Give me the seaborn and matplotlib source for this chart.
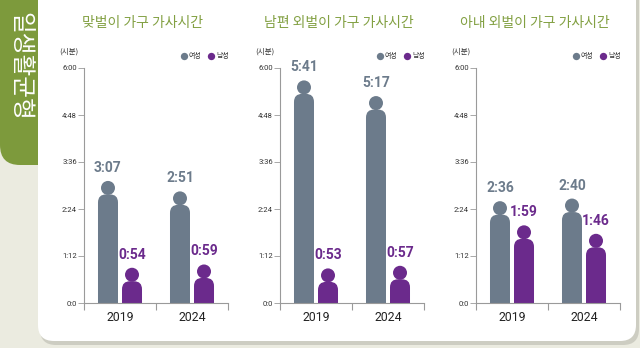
import matplotlib
matplotlib.use("Agg")
import matplotlib.pyplot as plt
from matplotlib.patches import FancyBboxPatch, Ellipse, BoxStyle
import seaborn as sns
import pandas as pd

sns.set_style("white")
plt.rcParams["font.family"] = ["Noto Sans CJK KR", "DejaVu Sans"]

# ---- data -------------------------------------------------------------
years = ["2019", "2024"]
sexes = ["여성", "남성"]
panel_titles = ["맞벌이 가구 가사시간", "남편 외벌이 가구 가사시간", "아내 외벌이 가구 가사시간"]
women_times = [["3:07", "2:51"], ["5:41", "5:17"], ["2:36", "2:40"]]
men_times = [["0:54", "0:59"], ["0:53", "0:57"], ["1:59", "1:46"]]
ytick_minutes = [0, 72, 144, 216, 288, 360]
ytick_labels = ["0:0", "1:12", "2:24", "3:36", "4:48", "6:00"]
side_label = "일생활균형"
unit_label = "(시분)"

# ---- style ------------------------------------------------------------
GREY = "#6c7b8b"
PURPLE = "#6b2a8c"
GREEN = "#7d9a3c"
TITLE_GREEN = "#82a042"
BG = "#ebebe0"
W, H = 640, 348


def to_minutes(s):
    h, m = s.split(":")
    return int(h) * 60 + int(m)


fig = plt.figure(figsize=(W / 100, H / 100), dpi=100, facecolor=BG)

# white card with soft shadow, and the green side banner
shadow = FancyBboxPatch((40, 3), 599, 400, boxstyle="round,pad=0,rounding_size=16",
                        transform=None, fc="#cdcdc2", ec="none", zorder=0)
card = FancyBboxPatch((38, 7), 598, 400, boxstyle="round,pad=0,rounding_size=16",
                      transform=None, fc="white", ec="none", zorder=1)
banner = FancyBboxPatch((0, H - 165), 60, 300, boxstyle="round,pad=0,rounding_size=20",
                        transform=None, fc=GREEN, ec="none", zorder=0.5)
for p in (shadow, banner, card):
    fig.add_artist(p)
fig.text(20 / W, 1 - 66 / H, side_label, rotation=-90, color="white", fontsize=17,
         fontweight="light", ha="center", va="center", zorder=3)

AX_W, AX_H, AX_BOTTOM = 144, 235, 45
lefts = [84, 280, 476]
xpp = 2.0 / AX_W        # data x per pixel
ypp = 360.0 / AX_H      # minutes per pixel
HEAD = 14               # head diameter, px
BODY_R = 8              # shoulder radius, px

for i, left in enumerate(lefts):
    ax = fig.add_axes([left / W, AX_BOTTOM / H, AX_W / W, AX_H / H], zorder=5)
    ax.set_facecolor("none")

    rows = []
    for j, y in enumerate(years):
        rows.append({"year": y, "sex": sexes[0], "minutes": to_minutes(women_times[i][j]),
                     "label": women_times[i][j]})
        rows.append({"year": y, "sex": sexes[1], "minutes": to_minutes(men_times[i][j]),
                     "label": men_times[i][j]})
    df = pd.DataFrame(rows)

    sns.barplot(data=df, x="year", y="minutes", hue="sex", order=years, hue_order=sexes,
                palette=[GREY, PURPLE], width=0.667, gap=0.167, saturation=1,
                legend=False, errorbar=None, ax=ax)

    # turn each bar into a person pictogram: rounded body + round head
    for bar in list(ax.patches):
        x0, w, h = bar.get_x(), bar.get_width(), bar.get_height()
        color = bar.get_facecolor()
        bar.remove()
        xc = x0 + w / 2
        top = h - (HEAD - 0.5) * ypp
        body = FancyBboxPatch((x0, -20 * ypp), w, top + 20 * ypp,
                              boxstyle=BoxStyle.Round(pad=0, rounding_size=BODY_R * xpp),
                              mutation_aspect=ypp / xpp, fc=color, ec="none", zorder=2)
        ax.add_patch(body)
        head = Ellipse((xc, h - HEAD / 2 * ypp), HEAD * xpp, HEAD * ypp,
                       fc=color, ec="none", zorder=2)
        ax.add_patch(head)

    for _, r in df.iterrows():
        j = years.index(r["year"])
        off = -0.1667 if r["sex"] == sexes[0] else 0.1667
        color = GREY if r["sex"] == sexes[0] else PURPLE
        ax.text(j + off, r["minutes"] + 9 * ypp, r["label"], ha="center", va="baseline",
                fontsize=10, fontweight="bold", color=color, family="Roboto")

    ax.set_xlim(-0.5, 1.5)
    ax.set_ylim(0, 360)
    ax.set_xlabel("")
    ax.set_ylabel("")
    for s in ("top", "right"):
        ax.spines[s].set_visible(False)
    for s in ("left", "bottom"):
        ax.spines[s].set_color("#9a9a9a")
        ax.spines[s].set_linewidth(0.8)
    ax.set_yticks(ytick_minutes)
    ax.set_yticklabels(ytick_labels, fontsize=5.5, family="Roboto", color="#333333")
    ax.tick_params(axis="y", length=4, width=0.6, color="#9a9a9a", pad=1, left=True)
    ax.set_xticks([0, 1])
    ax.set_xticklabels(years, fontsize=8.8, family="Roboto", color="#222222")
    ax.tick_params(axis="x", which="major", length=0, pad=5.5)
    ax.set_xticks([-0.5, 0.5, 1.5], minor=True)
    ax.tick_params(axis="x", which="minor", length=5, width=0.8, color="#9a9a9a",
                   bottom=True, direction="out")

    # unit, legend and panel title
    ax.text(-15 / AX_W, (303 - 52) / AX_H, unit_label, transform=ax.transAxes,
            ha="center", va="center", fontsize=5.5, color="#333333")
    for k, (name, color) in enumerate(zip(sexes, [GREY, PURPLE])):
        cx = (99.5 + 27 * k) / AX_W
        cy = (303 - 56) / AX_H
        ax.scatter([cx], [cy], s=28, color=color, transform=ax.transAxes,
                   clip_on=False, zorder=6, linewidths=0)
        ax.text(cx + 5.5 / AX_W, cy, name, transform=ax.transAxes, ha="left",
                va="center", fontsize=5, color="#333333")
    fig.text((left + 59) / W, 1 - 22.5 / H, panel_titles[i], ha="center", va="center",
             fontsize=10, color=TITLE_GREEN)

fig.savefig("out.png", dpi=100, facecolor=BG)
